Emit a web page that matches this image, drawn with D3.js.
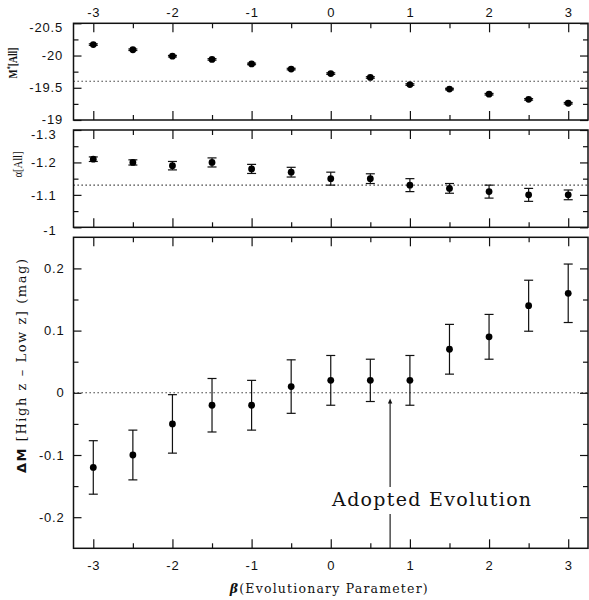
<!DOCTYPE html>
<html>
<head>
<meta charset="utf-8">
<script src="https://cdn.jsdelivr.net/npm/d3@7"></script>
<style>
  body { margin: 0; background: #fff; }
  .tick text { font-family: "Liberation Sans", Arial, sans-serif; font-size: 13px; letter-spacing: 0.8px; fill: #111; }
</style>
</head>
<body>
<svg id="chart" width="589" height="600"></svg>
<script>
// Evolutionary parameter values
const betas = [-3, -2.5, -2, -1.5, -1, -0.5, 0, 0.5, 1, 1.5, 2, 2.5, 3];

// Characteristic magnitude M* (all galaxies)
const mStar    = [-20.17, -20.09, -19.99, -19.94, -19.87, -19.79, -19.72, -19.66, -19.55, -19.48, -19.40, -19.32, -19.26];
const mStarErr = [0.012, 0.012, 0.012, 0.012, 0.012, 0.012, 0.012, 0.012, 0.012, 0.012, 0.012, 0.012, 0.012];

// Faint-end slope alpha (all galaxies)
const alpha    = [-1.21, -1.20, -1.19, -1.20, -1.18, -1.17, -1.15, -1.15, -1.13, -1.12, -1.11, -1.10, -1.10];
const alphaErr = [0.007, 0.008, 0.013, 0.014, 0.014, 0.015, 0.020, 0.015, 0.020, 0.015, 0.020, 0.020, 0.015];

// Magnitude offset between high- and low-redshift samples
const deltaM    = [-0.12, -0.10, -0.05, -0.02, -0.02, 0.01, 0.02, 0.02, 0.02, 0.07, 0.09, 0.14, 0.16];
const deltaMErr = [0.043, 0.040, 0.047, 0.043, 0.040, 0.043, 0.040, 0.034, 0.040, 0.040, 0.036, 0.041, 0.047];

// Reference levels (dotted lines) and adopted evolution
const mStarRef = -19.6;
const alphaRef = -1.13;
const deltaRef = 0;
const adoptedBeta = 0.75;
const adoptedLabel = "Adopted Evolution";

// Tick values
const xMajor = [-3, -2, -1, 0, 1, 2, 3];
const xMinor = [-2.5, -1.5, -0.5, 0.5, 1.5, 2.5];
const mStarMajor = [-20.5, -20, -19.5, -19];
const mStarMinor = [-20.25, -19.75, -19.25];
const alphaMajor = [-1.3, -1.2, -1.1, -1];
const alphaMinor = [-1.25, -1.15, -1.05];
const deltaMajor = [-0.2, -0.1, 0, 0.1, 0.2];
const deltaMinor = [-0.15, -0.05, 0.05, 0.15];

const svg = d3.select("#chart");
const left = 73.5, right = 588;
const x = d3.scaleLinear().domain([-3.25, 3.25]).range([left, right]);

const panels = [
  { values: mStar, errs: mStarErr, ref: mStarRef, domain: [-20.5, -19], range: [23.3, 120],
    major: mStarMajor, minor: mStarMinor, labelPad: 10.5, topLabels: true, bottomLabels: false,
    edgeShift: [4, -1] },
  { values: alpha, errs: alphaErr, ref: alphaRef, domain: [-1.3, -1], range: [130, 227.3],
    major: alphaMajor, minor: alphaMinor, labelPad: 17, topLabels: false, bottomLabels: false,
    edgeShift: [4, 3] },
  { values: deltaM, errs: deltaMErr, ref: deltaRef, domain: [0.25, -0.25], range: [237.3, 548.3],
    major: deltaMajor, minor: deltaMinor, labelPad: 9, topLabels: false, bottomLabels: true,
    edgeShift: [0, 0] }
];

const fmt = d => String(d);

function addAxis(g, axis, values, size, labels, pad) {
  const ax = axis.tickValues(values).tickSizeInner(-size).tickSizeOuter(0).tickPadding(pad || 3);
  ax.tickFormat(labels ? fmt : "");
  g.call(ax);
  g.select(".domain").remove();
  g.selectAll(".tick line").attr("stroke", "#111").attr("stroke-width", 1.2);
  return g;
}

panels.forEach(p => {
  const y = d3.scaleLinear().domain(p.domain).range(p.range);
  p.y = y;
  const top = p.range[0], bottom = p.range[1];
  const g = svg.append("g");

  // dotted reference level
  g.append("line")
    .attr("x1", left).attr("x2", right)
    .attr("y1", y(p.ref)).attr("y2", y(p.ref))
    .attr("stroke", "#222").attr("stroke-width", 1.1)
    .attr("stroke-dasharray", "1.3,2.7");

  // x ticks on top and bottom edges, pointing inward
  addAxis(g.append("g").attr("transform", `translate(0,${top})`), d3.axisTop(x), xMajor, 9, p.topLabels, 6.8);
  addAxis(g.append("g").attr("transform", `translate(0,${top})`), d3.axisTop(x), xMinor, 5, false);
  addAxis(g.append("g").attr("transform", `translate(0,${bottom})`), d3.axisBottom(x), xMajor, 9, p.bottomLabels, 12.5);
  addAxis(g.append("g").attr("transform", `translate(0,${bottom})`), d3.axisBottom(x), xMinor, 5, false);

  // y ticks on left and right edges, pointing inward
  const yl = addAxis(g.append("g").attr("transform", `translate(${left},0)`), d3.axisLeft(y), p.major, 8, true, p.labelPad);
  addAxis(g.append("g").attr("transform", `translate(${left},0)`), d3.axisLeft(y), p.minor, 5, false);
  addAxis(g.append("g").attr("transform", `translate(${right},0)`), d3.axisRight(y), p.major, 8, false);
  addAxis(g.append("g").attr("transform", `translate(${right},0)`), d3.axisRight(y), p.minor, 5, false);

  // labels sitting on the frame edges are shifted a little
  yl.selectAll(".tick").filter(d => d === p.domain[0]).select("text")
    .attr("transform", `translate(0,${p.edgeShift[0]})`);
  yl.selectAll(".tick").filter(d => d === p.domain[1]).select("text")
    .attr("transform", `translate(0,${p.edgeShift[1]})`);

  // frame
  g.append("rect")
    .attr("x", left).attr("y", top)
    .attr("width", right - left).attr("height", bottom - top)
    .attr("fill", "none").attr("stroke", "#111").attr("stroke-width", 1.5);

  // error bars
  const pts = betas.map((b, i) => ({ b, v: p.values[i], e: p.errs[i] }));
  const eb = g.append("g").attr("stroke", "#111").attr("stroke-width", 1.2);
  eb.selectAll("line.bar").data(pts).join("line")
    .attr("x1", d => x(d.b)).attr("x2", d => x(d.b))
    .attr("y1", d => y(d.v - d.e)).attr("y2", d => y(d.v + d.e));
  eb.selectAll("line.capHi").data(pts).join("line")
    .attr("x1", d => x(d.b) - 4.5).attr("x2", d => x(d.b) + 4.5)
    .attr("y1", d => y(d.v + d.e)).attr("y2", d => y(d.v + d.e));
  eb.selectAll("line.capLo").data(pts).join("line")
    .attr("x1", d => x(d.b) - 4.5).attr("x2", d => x(d.b) + 4.5)
    .attr("y1", d => y(d.v - d.e)).attr("y2", d => y(d.v - d.e));

  // points
  g.append("g").selectAll("circle").data(pts).join("circle")
    .attr("cx", d => x(d.b)).attr("cy", d => y(d.v))
    .attr("r", 3.4).attr("fill", "#000");
});

// adopted evolution arrow in the bottom panel
const y3 = panels[2].y;
const ax = x(adoptedBeta);
const tipY = y3(-0.009);
const ann = svg.append("g");
const label = ann.append("text")
  .attr("x", ax + 41.5).attr("y", 506)
  .attr("text-anchor", "middle")
  .attr("font-family", "'DejaVu Serif', serif")
  .attr("font-size", 19)
  .attr("textLength", 199).attr("lengthAdjust", "spacing")
  .attr("fill", "#111")
  .text(adoptedLabel);
const bb = label.node().getBBox();
const gapTop = bb.y - 1, gapBottom = bb.y + bb.height + 4;
ann.append("line")
  .attr("x1", ax).attr("x2", ax).attr("y1", tipY + 3).attr("y2", gapTop)
  .attr("stroke", "#222").attr("stroke-width", 1.2);
ann.append("line")
  .attr("x1", ax).attr("x2", ax).attr("y1", gapBottom).attr("y2", y3(-0.25))
  .attr("stroke", "#222").attr("stroke-width", 1.2);
ann.append("path")
  .attr("d", `M${ax},${tipY} L${ax - 2.2},${tipY + 5} L${ax + 2.2},${tipY + 5} Z`)
  .attr("fill", "#111");

// axis titles
svg.append("text")
  .attr("x", (left + right) / 2 - 2).attr("y", 593)
  .attr("text-anchor", "middle")
  .attr("font-family", "'DejaVu Serif', serif").attr("font-size", 12.5)
  .attr("textLength", 198).attr("lengthAdjust", "spacing")
  .attr("fill", "#111")
  .call(t => {
    t.append("tspan").attr("font-style", "italic").attr("font-weight", "bold").text("β");
    t.append("tspan").text("(Evolutionary Parameter)");
  });

svg.append("text")
  .attr("transform", "translate(26,366) rotate(-90)")
  .attr("text-anchor", "middle")
  .attr("font-family", "'DejaVu Serif', serif").attr("font-size", 13)
  .attr("textLength", 214).attr("lengthAdjust", "spacing")
  .attr("fill", "#111")
  .call(t => {
    t.append("tspan").attr("font-family", "'DejaVu Sans', sans-serif").attr("font-weight", "bold").text("ΔM");
    t.append("tspan").text(" [High z – Low z] (mag)");
  });

svg.append("text")
  .attr("transform", "translate(17,63) rotate(-90)")
  .attr("text-anchor", "middle")
  .attr("font-family", "'Liberation Serif', serif").attr("font-size", 12.5).attr("font-weight", "bold")
  .attr("textLength", 31).attr("lengthAdjust", "spacingAndGlyphs")
  .attr("fill", "#111")
  .call(t => {
    t.append("tspan").text("M");
    t.append("tspan").attr("font-size", 8).attr("dy", -4).text("*");
    t.append("tspan").attr("dy", 4).text("[All]");
  });

svg.append("text")
  .attr("transform", "translate(22,164.5) rotate(-90)")
  .attr("text-anchor", "middle")
  .attr("font-family", "'Liberation Serif', serif").attr("font-size", 13.5)
  .attr("textLength", 26).attr("lengthAdjust", "spacingAndGlyphs")
  .attr("fill", "#111")
  .text("α[All]");
</script>
</body>
</html>
